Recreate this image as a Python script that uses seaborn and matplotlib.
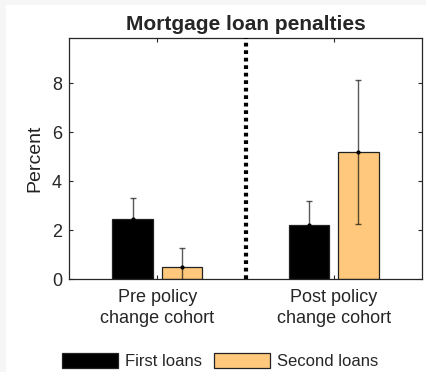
import matplotlib
matplotlib.use("Agg")
import matplotlib.pyplot as plt
import matplotlib.patches as mpatches
import seaborn as sns
import pandas as pd
import numpy as np

cohorts = ["Pre policy\nchange cohort", "Post policy\nchange cohort"]
loan_types = ["First loans", "Second loans"]
first_loans = [2.45, 2.2]
second_loans = [0.48, 5.18]
first_err = [0.85, 0.98]
second_err = [0.77, 2.94]
yticks = [0, 2, 4, 6, 8]

colors = {"First loans": "#000000", "Second loans": "#FFC87C"}

df = pd.DataFrame({
    "cohort": cohorts * 2,
    "loan": [loan_types[0]] * 2 + [loan_types[1]] * 2,
    "value": first_loans + second_loans,
    "err": first_err + second_err,
})

sns.set_style("ticks")
plt.rcParams["font.family"] = ["Liberation Sans", "DejaVu Sans"]

fig = plt.figure(figsize=(4.26, 3.72), dpi=100)
fig.patch.set_facecolor("#f6f6f6")
fig.patches.append(mpatches.Rectangle((6 / 426, 0), 1 - 6 / 426, 1 - 5 / 372,
                                      transform=fig.transFigure, facecolor="white",
                                      edgecolor="none", zorder=-5))
ax = fig.add_axes([69 / 426, 1 - 279 / 372, 353 / 426, 241 / 372])
ax.set_zorder(1)

sns.barplot(data=df, x="cohort", y="value", hue="loan", order=cohorts,
            hue_order=loan_types, palette=colors, width=0.56, gap=0.18,
            saturation=1, errorbar=None, ax=ax, legend=False, linewidth=0.9,
            edgecolor="#222222", zorder=2)

# error bars from bar patch centers
for cont, loan in zip(ax.containers, loan_types):
    sub = df[df["loan"] == loan].set_index("cohort").loc[cohorts]
    xs = [p.get_x() + p.get_width() / 2 for p in cont.patches]
    ax.errorbar(xs, sub["value"], yerr=sub["err"], fmt="none",
                ecolor=(0, 0, 0, 0.65), elinewidth=1.0, capsize=2.2, capthick=1.0,
                zorder=3)
    ax.plot(xs, sub["value"], ".", color="black", markersize=4, zorder=3)

ax.axvline(0.5, color="black", linestyle=(0, (0.9, 0.9)), linewidth=3.0, zorder=4)

ax.set_xlim(-0.5, 1.5)
ax.set_ylim(0, 9.85)
ax.set_yticks(yticks)
ax.set_xlabel("")
ax.set_ylabel("Percent", fontsize=14, color="#222222", labelpad=6)
ax.set_title("Mortgage loan penalties", fontsize=15, fontweight="bold", pad=6)
ax.tick_params(axis="both", direction="in", length=3, width=0.8, top=True,
               right=True, labelsize=13, colors="#262626", pad=5)
ax.tick_params(axis="x", labelsize=13, pad=7)
for t in ax.get_xticklabels():
    t.set_linespacing(1.3)
for s in ax.spines.values():
    s.set_visible(True)
    s.set_color("#262626")
    s.set_linewidth(0.9)

handles = [mpatches.Patch(facecolor=colors[l], edgecolor="#222222", linewidth=0.9, label=l)
           for l in loan_types]
fig.legend(handles=handles, loc="center", bbox_to_anchor=(0.516, 0.03), ncol=2,
           frameon=False, fontsize=12, handlelength=3.4, handleheight=1.0,
           handletextpad=0.4, columnspacing=0.7, borderaxespad=0)

fig.savefig("out.png", dpi=100, facecolor=fig.get_facecolor())
